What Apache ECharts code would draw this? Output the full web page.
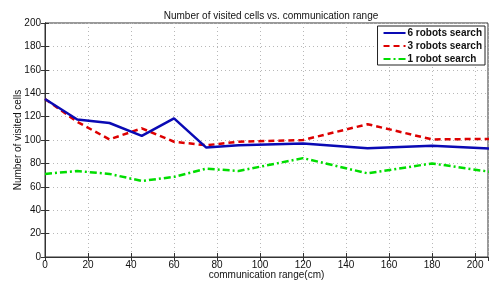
<!DOCTYPE html>
<html><head><meta charset="utf-8">
<script src="https://cdn.jsdelivr.net/npm/echarts@6/dist/echarts.min.js"></script>
<style>html,body{margin:0;padding:0;background:#fff}#c{width:489px;height:282px}</style>
</head><body><div id="c"></div>
<script>
const ranges = [0, 15, 30, 45, 60, 75, 90, 120, 150, 180, 210];
const robots6 = [135, 117.5, 114.5, 103.5, 118.5, 93.5, 95.5, 97, 93, 95, 92.5];
const robots3 = [135, 115.5, 100.5, 110, 98.5, 95.5, 98.5, 100, 113.5, 100.5, 101];
const robot1 = [71, 73.5, 71, 65, 68.5, 75.5, 73.5, 84.5, 71.5, 80, 72];
const seriesNames = ['6 robots search', '3 robots search', '1 robot search'];
const xTicks = [0,20,40,60,80,100,120,140,160,180,200];

const font = 'Liberation Sans, Arial, sans-serif';
const pair = (ys) => ranges.map((x, i) => [x, ys[i]]);
const gridLine = {show: true, lineStyle: {color: '#b8b8b8', type: [1, 3], width: 1}};
const chart = echarts.init(document.getElementById('c'));
chart.setOption({
  backgroundColor: '#fff',
  animation: false,
  title: {text: 'Number of visited cells vs. communication range', left: 266, textAlign: 'center', top: 6,
    textStyle: {fontFamily: font, fontSize: 10, fontWeight: 'normal', color: '#111'}},
  grid: {left: 45, right: 1, top: 23, bottom: 25, show: true, borderColor: '#333', borderWidth: 1,
    outerBoundsMode: 'none', containLabel: false},
  legend: {right: 4, top: 26, orient: 'vertical', itemWidth: 22, itemHeight: 8, itemGap: 3,
    backgroundColor: '#fff', borderColor: '#222', borderWidth: 1, padding: [2, 3, 1, 5],
    itemStyle: {opacity: 0},
    textStyle: {fontFamily: font, fontSize: 10, fontWeight: 'bold', color: '#111', padding: [0,0,0,-3]},
    data: seriesNames},
  xAxis: [{type: 'value', min: 0, max: 206, interval: 20, position: 'bottom',
    name: 'communication range(cm)', nameLocation: 'middle', nameGap: 13, nameMoveOverlap: false,
    nameTextStyle: {fontFamily: font, fontSize: 10, color: '#111'},
    axisLine: {lineStyle: {color: '#333'}}, axisTick: {inside: true, length: 4, lineStyle: {color: '#333'}},
    axisLabel: {fontFamily: font, fontSize: 10, color: '#111', margin: 3, showMaxLabel: false,
      formatter: v => (xTicks.indexOf(v) >= 0 ? String(v) : '')},
    splitLine: gridLine},
   {type: 'value', min: 0, max: 206, interval: 20, position: 'top',
    axisLine: {lineStyle: {color: '#333'}}, axisTick: {inside: true, length: 4, lineStyle: {color: '#333'}},
    axisLabel: {show: false}, splitLine: {show: false}}],
  yAxis: [{type: 'value', min: 0, max: 200, interval: 20, position: 'left',
    name: 'Number of visited cells', nameLocation: 'middle', nameGap: 22, nameMoveOverlap: false,
    nameTextStyle: {fontFamily: font, fontSize: 10, color: '#111'},
    axisLine: {show: true, lineStyle: {color: '#333'}}, axisTick: {show: true, inside: true, length: 4, lineStyle: {color: '#333'}},
    axisLabel: {fontFamily: font, fontSize: 10, color: '#111', margin: 4},
    splitLine: gridLine},
   {type: 'value', min: 0, max: 200, interval: 20, position: 'right',
    axisLine: {show: true, lineStyle: {color: '#333'}}, axisTick: {show: true, inside: true, length: 4, lineStyle: {color: '#333'}},
    axisLabel: {show: false}, splitLine: {show: false}}],
  series: [
    {name: seriesNames[0], type: 'line', data: pair(robots6), symbol: 'none', clip: true,
      lineStyle: {color: '#0a0ab4', width: 2.5}, itemStyle: {color: '#0a0ab4'}, z: 4},
    {name: seriesNames[1], type: 'line', data: pair(robots3), symbol: 'none', clip: true,
      lineStyle: {color: '#dd0000', width: 2.5, type: [6, 4]}, itemStyle: {color: '#dd0000'}, z: 3},
    {name: seriesNames[2], type: 'line', data: pair(robot1), symbol: 'none', clip: true,
      lineStyle: {color: '#00dd00', width: 2.5, type: [7, 3, 2, 3]}, itemStyle: {color: '#00dd00'}, z: 2}
  ]
});
</script></body></html>
